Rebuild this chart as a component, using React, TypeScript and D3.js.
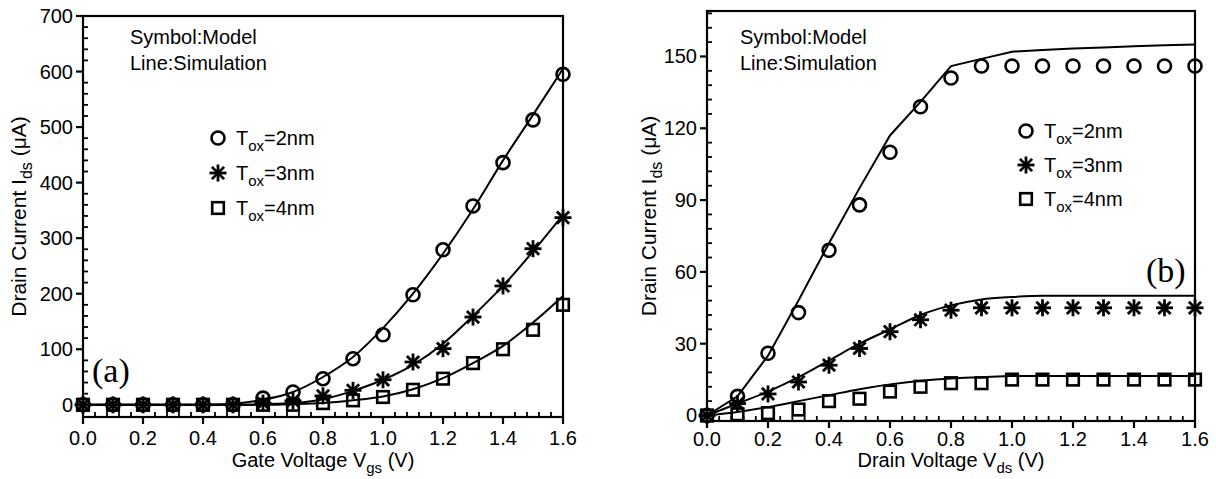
import React from "react";
import * as d3 from "d3";

const vgs = [0, 0.1, 0.2, 0.3, 0.4, 0.5, 0.6, 0.7, 0.8, 0.9, 1.0, 1.1, 1.2, 1.3, 1.4, 1.5, 1.6];
// Panel (a): symbols (model)
const a2Model = [0, 0, 0, 0, 0, 0, 12, 23, 47, 83, 126, 198, 279, 358, 436, 513, 595];
const a3Model = [0, 0, 0, 0, 0, 0, 3, 7, 16, 26, 45, 77, 101, 158, 214, 281, 337];
const a4Model = [0, 0, 0, 0, 0, 0, 0, 0, 3, 8, 14, 27, 47, 75, 100, 135, 180];
// Panel (a): lines (simulation)
const a2Sim = [0, 0, 0, 0, 0, 2, 9, 23, 50, 86, 138, 200, 272, 352, 440, 522, 605];
const a3Sim = [0, 0, 0, 0, 0, 0, 1, 3, 10, 25, 45, 72, 110, 160, 214, 276, 342];
const a4Sim = [0, 0, 0, 0, 0, 0, 0, 1, 3, 8, 15, 28, 48, 75, 106, 148, 196];

const vds = [0, 0.1, 0.2, 0.3, 0.4, 0.5, 0.6, 0.7, 0.8, 0.9, 1.0, 1.1, 1.2, 1.3, 1.4, 1.5, 1.6];
// Panel (b): symbols (model)
const b2Model = [0, 8, 26, 43, 69, 88, 110, 129, 141, 146, 146, 146, 146, 146, 146, 146, 146];
const b3Model = [0, 5, 9, 14, 21, 28, 35, 40, 44, 45, 45, 45, 45, 45, 45, 45, 45];
const b4Model = [0, 0.5, 1, 2.5, 6, 7, 10, 12, 13.5, 13.5, 15, 15, 15, 15, 15, 15, 15];
// Panel (b): lines (simulation)
const b2Sim = [0, 8, 25, 48, 72, 95, 117, 131, 146, 149, 152, 152.7, 153.3, 153.8, 154.3, 154.7, 155];
const b3Sim = [0, 5, 10, 16, 23, 30, 36, 42, 46, 48.5, 49.5, 50, 50, 50, 50, 50, 50];
const b4Sim = [0, 1.5, 3.5, 6, 8.5, 11, 13, 14.5, 15.5, 16, 16.5, 16.5, 16.5, 16.5, 16.5, 16.5, 16.5];

const xTicks = [0, 0.2, 0.4, 0.6, 0.8, 1.0, 1.2, 1.4, 1.6];
const aYTicks = [0, 100, 200, 300, 400, 500, 600, 700];
const bYTicks = [0, 30, 60, 90, 120, 150];
const legendLabels = ["=2nm", "=3nm", "=4nm"];

const FONT = "'Liberation Sans', Arial, sans-serif";

type Sym = "circle" | "star" | "square";

function Marker({ x, y, kind }: { x: number; y: number; kind: Sym }) {
  if (kind === "circle") return <circle cx={x} cy={y} r={6.5} fill="none" stroke="#000" strokeWidth={2.6} />;
  if (kind === "square") return <rect x={x - 5.8} y={y - 5.8} width={11.6} height={11.6} fill="none" stroke="#000" strokeWidth={2.6} />;
  const r = 8.5;
  const d = r * 0.72;
  return (
    <g stroke="#000" strokeWidth={2.8}>
      <line x1={x} y1={y - r} x2={x} y2={y + r} />
      <line x1={x - r} y1={y} x2={x + r} y2={y} />
      <line x1={x - d} y1={y - d} x2={x + d} y2={y + d} />
      <line x1={x - d} y1={y + d} x2={x + d} y2={y - d} />
    </g>
  );
}

interface PanelProps {
  left: number; right: number; top: number; bottom: number;
  yDomain: [number, number];
  yTicks: number[];
  yMinorStep: number;
  xs: number[];
  models: number[][];
  sims: number[][];
  xLabel: string; xSub: string; xLabelY: number; xTickY: number;
  yLabelX: number;
  legendX: number; legendY: number; legendGap: number;
  noteX: number; noteY: number;
  tag: string; tagX: number; tagY: number;
  smooth: boolean[];
}

function Panel(p: PanelProps) {
  const x = d3.scaleLinear().domain([0, 1.6]).range([p.left, p.right]);
  const y = d3.scaleLinear().domain(p.yDomain).range([p.bottom, p.top]);
  const kinds: Sym[] = ["circle", "star", "square"];
  const xMinor = d3.range(0, 1.6001, 0.04).filter((v) => Math.abs(v / 0.2 - Math.round(v / 0.2)) > 1e-6);
  const yMinor = d3.range(p.yTicks[0], p.yDomain[1] + 1e-6, p.yMinorStep).filter(
    (v) => !p.yTicks.some((t) => Math.abs(t - v) < 1e-6)
  );
  const axisY = p.bottom;
  return (
    <g fontFamily={FONT}>
      {p.sims.map((s, i) => {
        const line = d3
          .line<number>()
          .x((_, j) => x(p.xs[j]))
          .y((v) => y(v))
          .curve(p.smooth[i] ? d3.curveMonotoneX : d3.curveLinear);
        return <path key={"l" + i} d={line(s) || ""} fill="none" stroke="#000" strokeWidth={2} />;
      })}
      {p.models.map((m, i) =>
        m.map((v, j) => <Marker key={"m" + i + "-" + j} x={x(p.xs[j])} y={y(v)} kind={kinds[i]} />)
      )}
      <rect x={p.left} y={p.top} width={p.right - p.left} height={p.bottom - p.top} fill="none" stroke="#000" strokeWidth={2.2} />
      {xTicks.map((t) => (
        <g key={"xt" + t}>
          <line x1={x(t)} x2={x(t)} y1={axisY} y2={axisY + 7} stroke="#000" strokeWidth={2.2} />
          <text x={x(t)} y={p.xTickY} textAnchor="middle" fontSize={20}>{t.toFixed(1)}</text>
        </g>
      ))}
      {xMinor.map((t, i) => (
        <line key={"xm" + i} x1={x(t)} x2={x(t)} y1={axisY} y2={axisY - 5} stroke="#000" strokeWidth={1.8} />
      ))}
      {p.yTicks.map((t) => (
        <g key={"yt" + t}>
          <line x1={p.left} x2={p.left - 7} y1={y(t)} y2={y(t)} stroke="#000" strokeWidth={2.2} />
          <text x={p.left - 10} y={y(t) + 7} textAnchor="end" fontSize={20}>{t}</text>
        </g>
      ))}
      {yMinor.map((t, i) => (
        <line key={"ym" + i} x1={p.left} x2={p.left + 5} y1={y(t)} y2={y(t)} stroke="#000" strokeWidth={1.8} />
      ))}
      <text x={(p.left + p.right) / 2} y={p.xLabelY} textAnchor="middle" fontSize={20}>
        {p.xLabel}
        <tspan fontSize={15} dy={6}>{p.xSub}</tspan>
        <tspan dy={-6}> (V)</tspan>
      </text>
      <text
        transform={`translate(${p.yLabelX},${(p.top + p.bottom) / 2}) rotate(-90)`}
        textAnchor="middle"
        fontSize={21}
      >
        Drain Current I
        <tspan fontSize={16} dy={6}>ds</tspan>
        <tspan dy={-6}> (μA)</tspan>
      </text>
      <text x={p.noteX} y={p.noteY} fontSize={20}>Symbol:Model</text>
      <text x={p.noteX} y={p.noteY + 26} fontSize={20}>Line:Simulation</text>
      {legendLabels.map((lab, i) => {
        const ly = p.legendY + i * p.legendGap;
        return (
          <g key={"lg" + i}>
            <Marker x={p.legendX} y={ly} kind={kinds[i]} />
            <text x={p.legendX + 18} y={ly + 7} fontSize={20}>
              T<tspan fontSize={15} dy={6}>ox</tspan>
              <tspan dy={-6}>{lab}</tspan>
            </text>
          </g>
        );
      })}
      <text x={p.tagX} y={p.tagY} fontSize={34} fontFamily="'Liberation Serif', 'Times New Roman', serif">{p.tag}</text>
    </g>
  );
}

export default function App() {
  return (
    <svg width={1216} height={479} style={{ position: "absolute", left: 0, top: 0, background: "#fff" }}>
      <rect width={1216} height={479} fill="#fff" />
      <Panel
        left={83} right={563} top={16} bottom={417}
        yDomain={[-22, 700]} yTicks={aYTicks} yMinorStep={20}
        xs={vgs} models={[a2Model, a3Model, a4Model]} sims={[a2Sim, a3Sim, a4Sim]}
        xLabel="Gate Voltage V" xSub="gs" xLabelY={467} xTickY={445} yLabelX={26}
        legendX={218} legendY={138} legendGap={35}
        noteX={130} noteY={44}
        tag="(a)" tagX={92} tagY={382}
        smooth={[true, true, true]}
      />
      <Panel
        left={707} right={1195} top={11} bottom={421}
        yDomain={[-2.3, 169]} yTicks={bYTicks} yMinorStep={6}
        xs={vds} models={[b2Model, b3Model, b4Model]} sims={[b2Sim, b3Sim, b4Sim]}
        xLabel="Drain Voltage V" xSub="ds" xLabelY={467} xTickY={446} yLabelX={656}
        legendX={1026} legendY={131} legendGap={34}
        noteX={740} noteY={44}
        tag="(b)" tagX={1146} tagY={282}
        smooth={[false, true, true]}
      />
    </svg>
  );
}
